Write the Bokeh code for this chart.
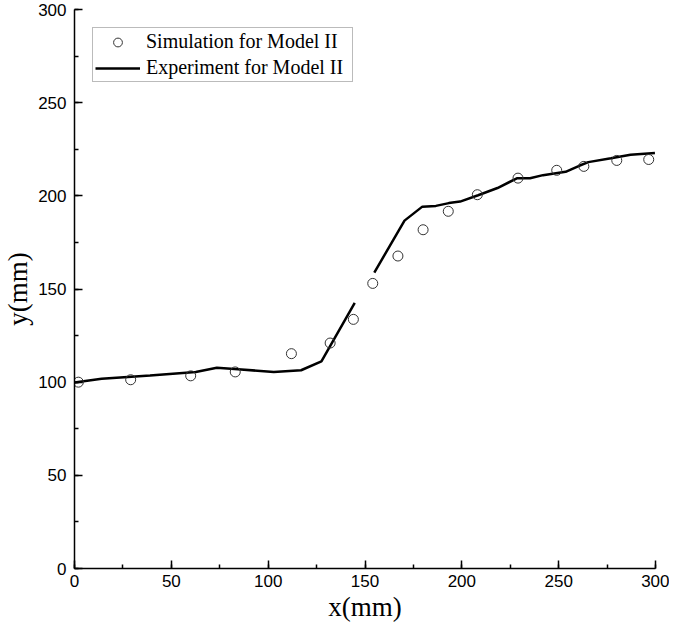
from bokeh.plotting import figure
from bokeh.models import Range1d, SingleIntervalTicker, Legend, LegendItem
from bokeh.embed import file_html
from bokeh.resources import INLINE

# Simulation points (circles)
sim_x = [2, 29, 60, 83, 112, 132, 144, 154, 167, 180, 193, 208, 229, 249, 263, 280, 296.5]
sim_y = [100, 101.3, 103.4, 105.5, 115.3, 121, 133.7, 153, 167.7, 181.8, 191.7, 200.6, 209.5, 213.7, 215.8, 219, 219.5]

# Experiment curve, first segment
exp1_x = [0, 14, 39, 62.6, 73.5, 84.4, 102.9, 117, 127.5, 144.7]
exp1_y = [99.8, 101.8, 103.6, 105.5, 107.7, 106.9, 105.5, 106.4, 111.2, 142.6]
# Experiment curve, second segment
exp2_x = [154.8, 170.4, 179.6, 186.6, 193.3, 199.1, 208.4, 218.4, 228.4, 235.2, 241.9, 253.6, 260.3, 265.3, 277, 287.1, 299.7]
exp2_y = [158.8, 186.7, 194.2, 194.6, 196.1, 196.9, 200.3, 204.2, 209.4, 209.4, 211.1, 212.9, 216, 218.1, 220.2, 222.1, 223]

p = figure(width=669, height=624, output_backend="svg", toolbar_location=None,
           x_range=Range1d(0, 300), y_range=Range1d(0, 300),
           min_border_left=60, min_border_right=14, min_border_top=9, min_border_bottom=50)
p.outline_line_color = None
p.xgrid.visible = False
p.ygrid.visible = False
p.background_fill_color = "white"
p.border_fill_color = "white"

l1 = p.line(exp1_x, exp1_y, line_color="black", line_width=2.5)
l2 = p.line(exp2_x, exp2_y, line_color="black", line_width=2.5)
c = p.scatter(sim_x, sim_y, marker="circle", size=10, fill_color=None,
              line_color="#333333", line_width=1)

for ax, lab in ((p.xaxis[0], "x(mm)"), (p.yaxis[0], "y(mm)")):
    ax.ticker = SingleIntervalTicker(interval=50, num_minor_ticks=2)
    ax.axis_label = lab
    ax.axis_label_text_font = "Liberation Serif"
    ax.axis_label_text_font_size = "27px"
    ax.axis_label_text_font_style = "normal"
    ax.axis_label_text_color = "black"
    ax.major_label_text_font = "Liberation Sans"
    ax.major_label_text_font_size = "17px"
    ax.major_label_text_color = "black"
    ax.axis_line_color = "black"
    ax.axis_line_width = 1.5
    ax.major_tick_line_color = "black"
    ax.major_tick_line_width = 1.5
    ax.minor_tick_line_color = "black"
    ax.minor_tick_line_width = 1.5
    ax.major_tick_in = 8
    ax.major_tick_out = 0
    ax.minor_tick_in = 4
    ax.minor_tick_out = 0

p.xaxis[0].major_label_standoff = 6
p.xaxis[0].axis_label_standoff = 2
p.yaxis[0].major_label_standoff = 8
p.yaxis[0].axis_label_standoff = 2

legend = Legend(items=[LegendItem(label="Simulation for Model II", renderers=[c]),
                       LegendItem(label="Experiment for Model II", renderers=[l1])],
                location="top_left")
legend.margin = 18
legend.padding = 2
legend.spacing = 3
legend.glyph_width = 45
legend.glyph_height = 22
legend.label_height = 22
legend.label_width = 204
legend.label_standoff = 6
legend.label_text_font = "Liberation Serif"
legend.label_text_font_size = "20px"
legend.label_text_color = "black"
legend.border_line_color = "#777777"
legend.border_line_width = 1
legend.background_fill_color = "white"
legend.background_fill_alpha = 1
p.add_layout(legend)

open("out.html", "w").write(file_html(p, INLINE))
